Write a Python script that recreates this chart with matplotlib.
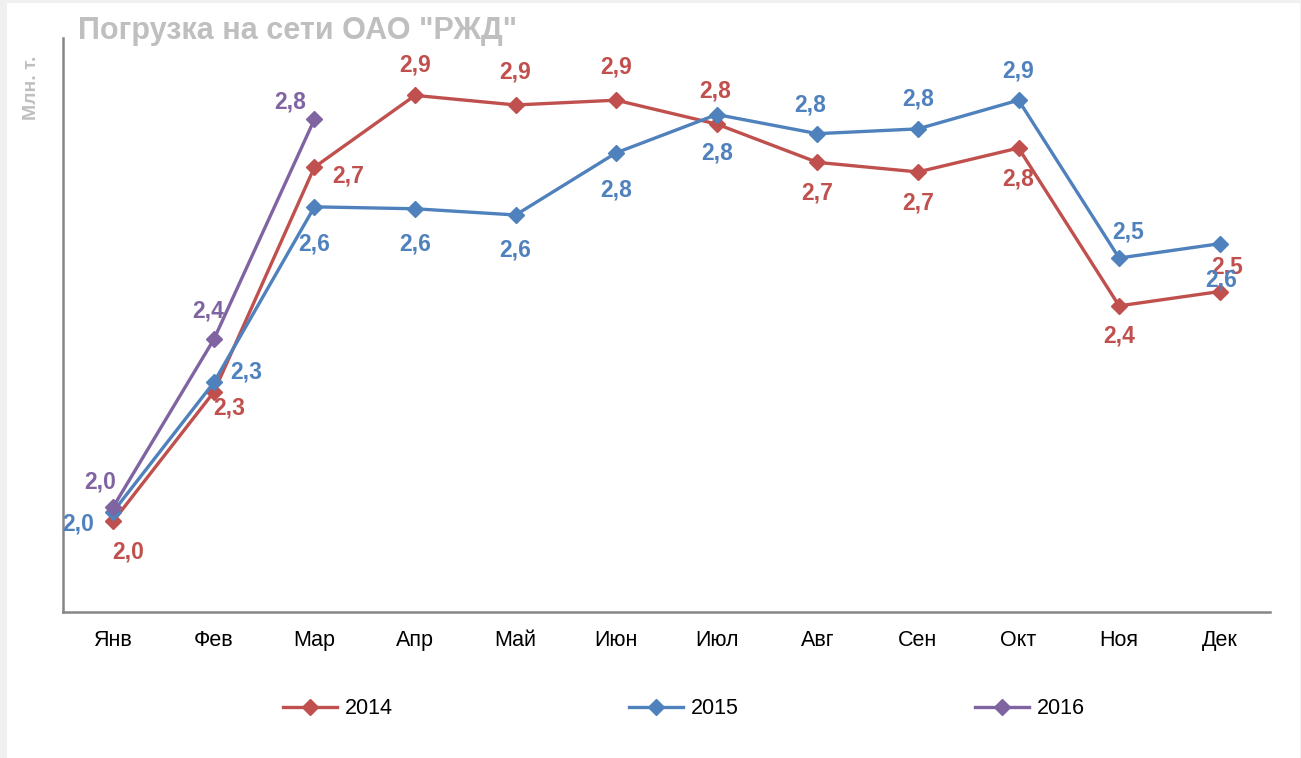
import matplotlib
matplotlib.use("Agg")
import matplotlib.pyplot as plt
from matplotlib import font_manager
from matplotlib.patches import Rectangle

# data (млн. т.)
months = ["Янв", "Фев", "Мар", "Апр", "Май", "Июн", "Июл", "Авг", "Сен", "Окт", "Ноя", "Дек"]
y2014 = [1.99, 2.26, 2.73, 2.88, 2.86, 2.87, 2.82, 2.74, 2.72, 2.77, 2.44, 2.47]
y2015 = [2.01, 2.28, 2.647, 2.643, 2.63, 2.76, 2.84, 2.80, 2.81, 2.87, 2.54, 2.57]
y2016 = [2.02, 2.37, 2.83]

# label offsets in pixels (dx, dy) for each point
off2014 = [(15, -31), (15, -16), (34, -9), (0, 30), (0, 33), (0, 33), (-2, 33), (0, -31), (0, -31), (0, -31), (0, -30), (7, 25)]
off2015 = [(-35, -12), (32, 10), (0, -37), (0, -35), (0, -35), (0, -37), (0, -38), (-7, 29), (0, 30), (0, 29), (9, 26), (1, -36)]
off2016 = [(-13, 25), (-6, 28), (-24, 17)]

names = [f.name for f in font_manager.fontManager.ttflist]
font = "Liberation Sans Narrow" if "Liberation Sans Narrow" in names else "Liberation Sans"
plt.rcParams["font.family"] = [font, "DejaVu Sans"]

fig = plt.figure(figsize=(13.01, 7.58), dpi=100)
fig.patch.set_facecolor("#F0F0F0")
fig.patches.append(Rectangle((7 / 1301, 0), 1293 / 1301, 755 / 758, transform=fig.transFigure,
                             facecolor="white", edgecolor="none", zorder=-10))

ax = fig.add_axes([63 / 1301, 1 - 612 / 758, (1270 - 63) / 1301, (612 - 38) / 758])
ax.set_facecolor("none")

series = [
    ("2014", y2014, "#C0504D", off2014),
    ("2015", y2015, "#4F81BD", off2015),
    ("2016", y2016, "#8064A2", off2016),
]

for name, vals, color, offs in series:
    xs = list(range(len(vals)))
    ax.plot(xs, vals, color=color, lw=2.4, marker="D", ms=8, label=name, zorder=3)
    for x, v, (dx, dy) in zip(xs, vals, offs):
        ax.annotate(f"{v:.1f}".replace(".", ","), (x, v), xytext=(dx, dy),
                    textcoords="offset pixels", ha="center", va="center",
                    color=color, fontsize=16.5, fontweight="bold", zorder=4)

ax.set_xlim(-0.5, 11.5)
ax.set_ylim(1.8, 3.0)
ax.set_xticks(range(len(months)))
ax.set_xticklabels(months, fontsize=15.5)
ax.tick_params(axis="x", length=0, pad=13)
ax.set_yticks([])
for side in ["top", "right"]:
    ax.spines[side].set_visible(False)
for side in ["left", "bottom"]:
    ax.spines[side].set_color("#868686")
    ax.spines[side].set_linewidth(1.8)

fig.text(78 / 1301, 1 - 31 / 758, 'Погрузка на сети ОАО "РЖД"', color="#BFBFBF",
         fontsize=22, fontweight="bold", ha="left", va="center")
fig.text(31 / 1301, 1 - 88 / 758, "Млн. т.", color="#BFBFBF", fontsize=14,
         fontweight="bold", rotation=90, ha="center", va="center")

fig.legend(loc="center", bbox_to_anchor=(684 / 1301, 1 - 709 / 758), ncol=3, frameon=False,
           fontsize=15.5, handlelength=2.5, columnspacing=11.0, handletextpad=0.35)

fig.savefig("out.png", dpi=100, facecolor=fig.get_facecolor())
